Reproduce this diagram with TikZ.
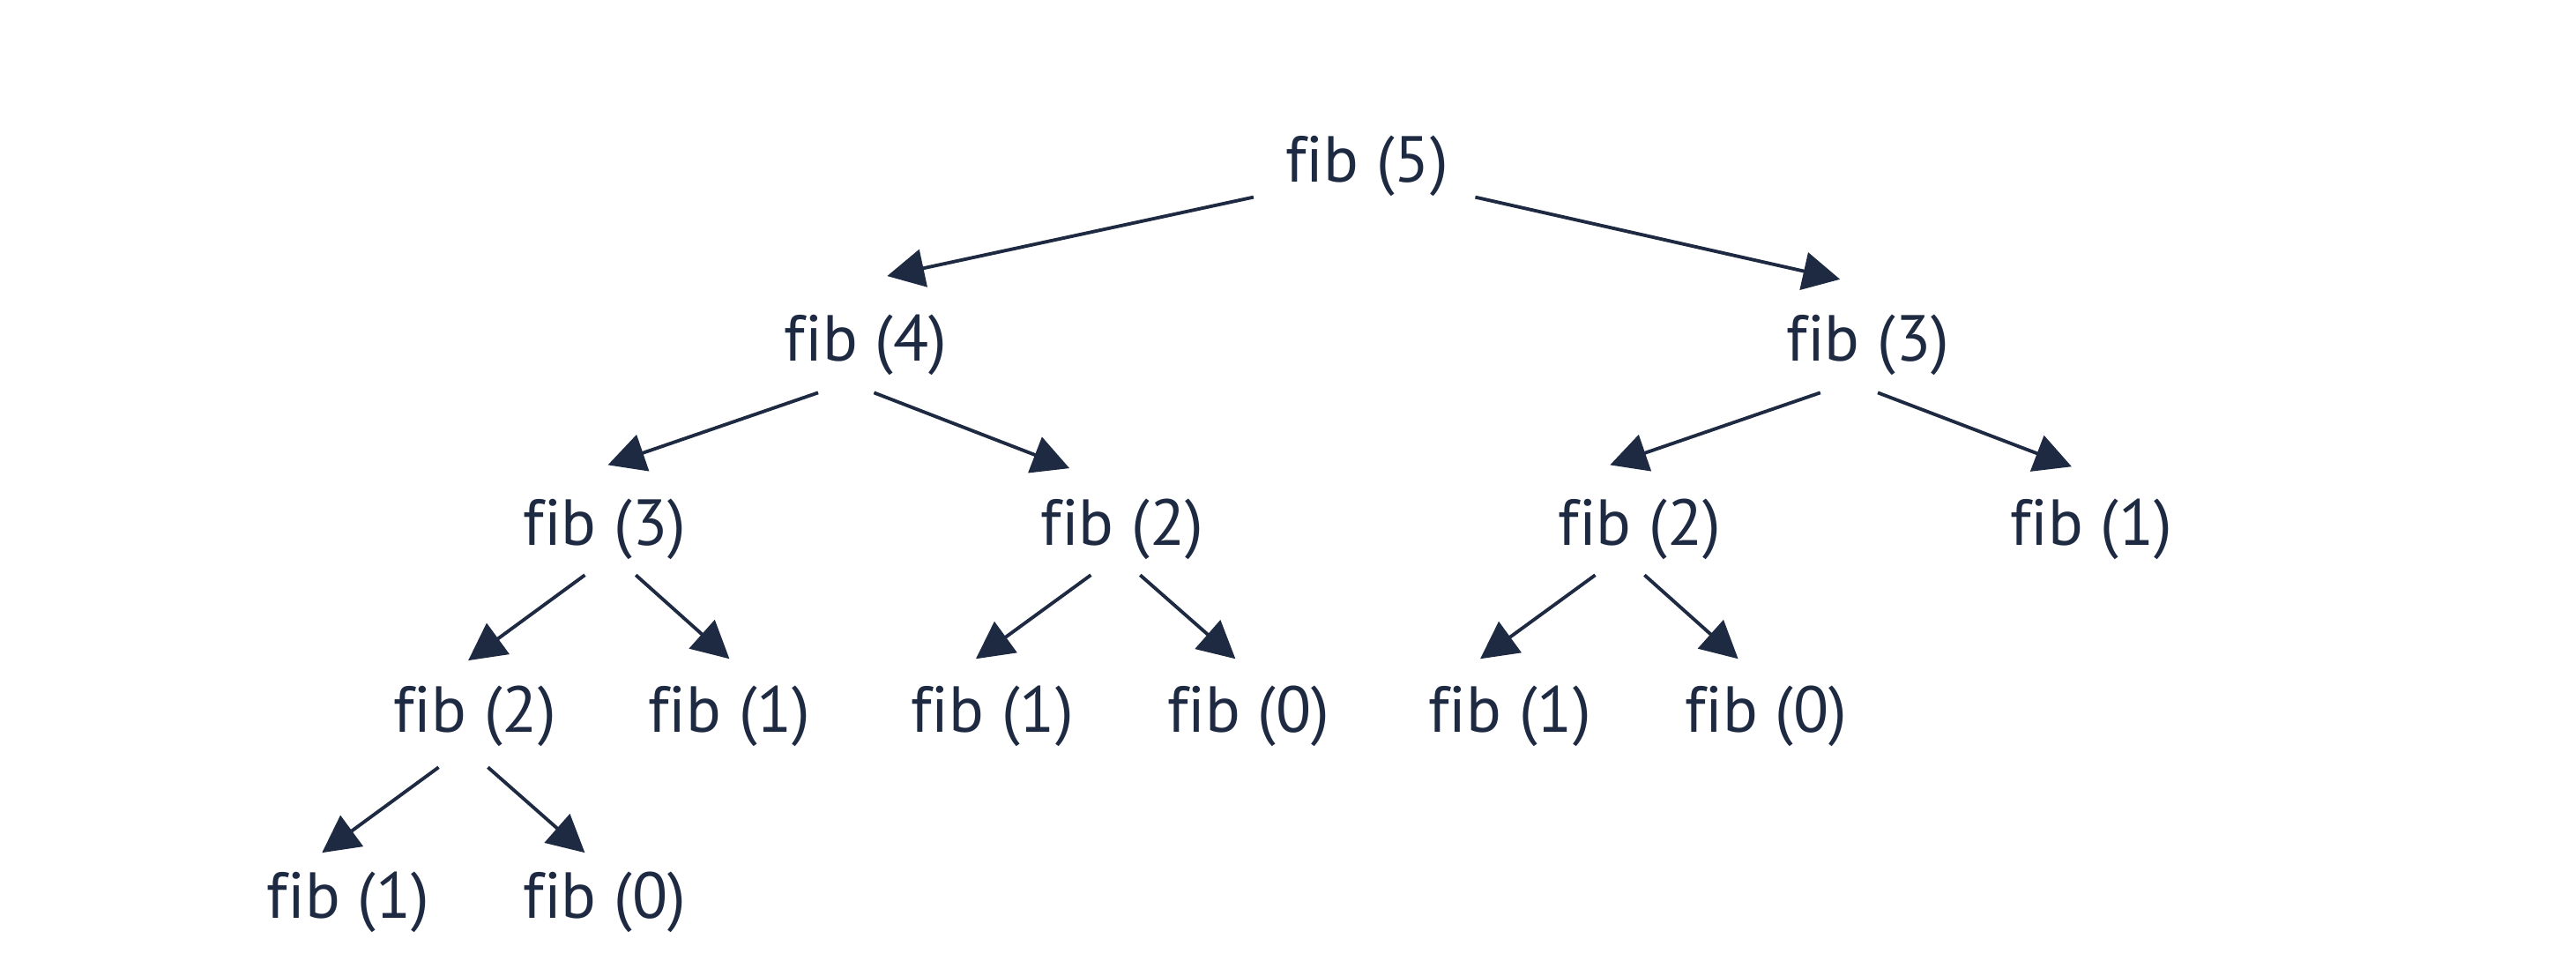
\documentclass[tikz,border=0pt]{standalone}
\usepackage{fontspec}
\setmainfont[Ligatures=CommonOff]{PT Sans}
\usetikzlibrary{arrows.meta}
\definecolor{ink}{RGB}{30,42,66}
\begin{document}
\begin{tikzpicture}[x=0.18635mm,y=-0.18635mm,
  call/.style={inner sep=0pt,text=ink,font=\fontsize{21}{25}\selectfont},
  arr/.style={draw=ink,line width=1.1pt,-{Triangle[length=4.2mm,width=4.3mm]}}]
\useasboundingbox (0,0) rectangle (1568,594);
% level 0
\node[call] (f5) at (832,101) {fib (5)};
% level 1
\node[call] (f4) at (527,210) {fib (4)};
\node[call] (f3r) at (1137,210) {fib (3)};
% level 2
\node[call] (f3l) at (368,322) {fib (3)};
\node[call] (f2a) at (683,322) {fib (2)};
\node[call] (f2b) at (998,322) {fib (2)};
\node[call] (f1a) at (1273,322) {fib (1)};
% level 3
\node[call] (f2c) at (289,436) {fib (2)};
\node[call] (f1b) at (444,436) {fib (1)};
\node[call] (f1c) at (604,436) {fib (1)};
\node[call] (f0a) at (760,436) {fib (0)};
\node[call] (f1d) at (919,436) {fib (1)};
\node[call] (f0b) at (1075,436) {fib (0)};
% level 4
\node[call] (f1e) at (212,549) {fib (1)};
\node[call] (f0c) at (368,549) {fib (0)};
% calls
\draw[arr] ([shift={(-69,19)}]f5.center) -- ([shift={(13,-42)}]f4.center);
\draw[arr] ([shift={(66,19)}]f5.center) -- ([shift={(-17,-40)}]f3r.center);
\draw[arr] ([shift={(-29,29)}]f4.center) -- ([shift={(2,-39)}]f3l.center);
\draw[arr] ([shift={(5,29)}]f4.center) -- ([shift={(-32,-37)}]f2a.center);
\draw[arr] ([shift={(-29,29)}]f3r.center) -- ([shift={(-18,-39)}]f2b.center);
\draw[arr] ([shift={(6,29)}]f3r.center) -- ([shift={(-12,-38)}]f1a.center);
\draw[arr] ([shift={(-12,28)}]f3l.center) -- ([shift={(-4,-34)}]f2c.center);
\draw[arr] ([shift={(19,28)}]f3l.center) -- ([shift={(0,-35)}]f1b.center);
\draw[arr] ([shift={(-19,28)}]f2a.center) -- ([shift={(-10,-35)}]f1c.center);
\draw[arr] ([shift={(11,28)}]f2a.center) -- ([shift={(-8,-35)}]f0a.center);
\draw[arr] ([shift={(-27,28)}]f2b.center) -- ([shift={(-18,-35)}]f1d.center);
\draw[arr] ([shift={(3,28)}]f2b.center) -- ([shift={(-17,-35)}]f0b.center);
\draw[arr] ([shift={(-22,31)}]f2c.center) -- ([shift={(-16,-30)}]f1e.center);
\draw[arr] ([shift={(8,31)}]f2c.center) -- ([shift={(-12,-30)}]f0c.center);
\end{tikzpicture}
\end{document}
